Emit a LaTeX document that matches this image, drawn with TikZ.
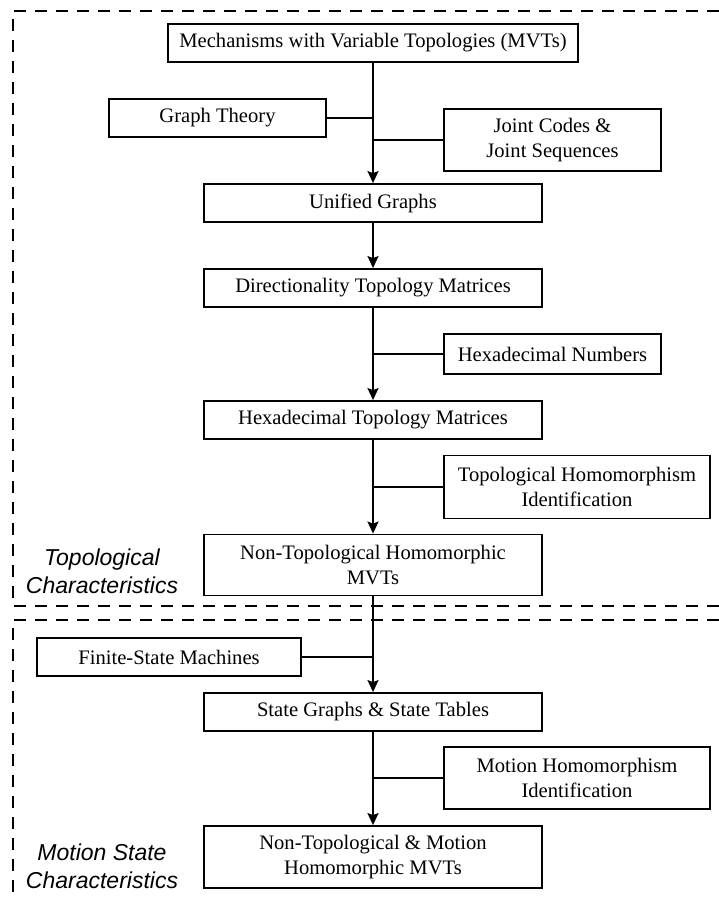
\documentclass[tikz,border=0pt]{standalone}
\usepackage{fontspec}
\setmainfont{Liberation Serif}
\setsansfont{Liberation Sans}
\usetikzlibrary{arrows.meta}

\tikzset{
  box/.style={draw,line width=1.8pt,fill=white,inner sep=0pt,align=center},
  mainbox/.style={box,minimum width=338pt,minimum height=38pt},
  frame/.style={line width=1.6pt,dash pattern=on 12pt off 9pt},
  charlabel/.style={font=\fontsize{23}{28}\selectfont\sffamily\itshape,align=center}
}

\begin{document}
\begin{tikzpicture}[x=1pt,y=-1pt,line width=1.8pt,>={Stealth[length=12pt,width=11pt,inset=2pt]},
    font=\fontsize{20.6}{25}\selectfont]
      \useasboundingbox (0,0) rectangle (719,899);
      \clip (0,0) rectangle (719,899);
      % dashed frames
      \draw[frame] (740,11) -| (13,606) -- (740,606);
      \draw[frame] (740,620) -| (13,910);
      % main column
      \node[box,minimum width=410pt,minimum height=38pt] (mvt) at (373,43) {Mechanisms with Variable Topologies (MVTs)};
      \node[mainbox] (ug) at (373,203) {Unified Graphs};
      \node[mainbox] (dtm) at (373,288) {Directionality Topology Matrices};
      \node[mainbox] (htm) at (373,420) {Hexadecimal Topology Matrices};
      \node[mainbox,minimum height=61pt] (nth) at (373,565) {Non-Topological Homomorphic\\MVTs};
      \node[mainbox] (sg) at (373,712) {State Graphs \& State Tables};
      \node[mainbox,minimum height=62pt] (fin) at (373,857) {Non-Topological \& Motion\\Homomorphic MVTs};
      % side inputs
      \node[box,minimum width=217pt,minimum height=38pt] (gt) at (217.5,118) {Graph Theory};
      \node[box,minimum width=217pt,minimum height=62pt] (jc) at (552.5,140) {Joint Codes \&\\Joint Sequences};
      \node[box,minimum width=217pt,minimum height=40pt] (hn) at (552.5,354) {Hexadecimal Numbers};
      \node[box,minimum width=266pt,minimum height=63pt] (thi) at (577,487) {Topological Homomorphism\\Identification};
      \node[box,minimum width=264pt,minimum height=38pt] (fsm) at (169,657) {Finite-State Machines};
      \node[box,minimum width=266pt,minimum height=62pt] (mhi) at (577,778) {Motion Homomorphism\\Identification};
      % region labels
      \node[charlabel] (topo) at (102,571) {Topological\\Characteristics};
      \node[charlabel] (motion) at (102,866) {Motion State\\Characteristics};
      % connectors
      \draw[->] (mvt) -- (ug);
      \draw (gt.east) -- (gt.east -| mvt.south);
      \draw (jc.west) -- (jc.west -| mvt.south);
      \draw[->] (ug) -- (dtm);
      \draw[->] (dtm) -- (htm);
      \draw (hn.west) -- (hn.west -| dtm.south);
      \draw[->] (htm) -- (nth);
      \draw (thi.west) -- (thi.west -| htm.south);
      \draw[->] (nth) -- (sg);
      \draw (fsm.east) -- (fsm.east -| nth.south);
      \draw[->] (sg) -- (fin);
      \draw (mhi.west) -- (mhi.west -| sg.south);
\end{tikzpicture}
\end{document}
